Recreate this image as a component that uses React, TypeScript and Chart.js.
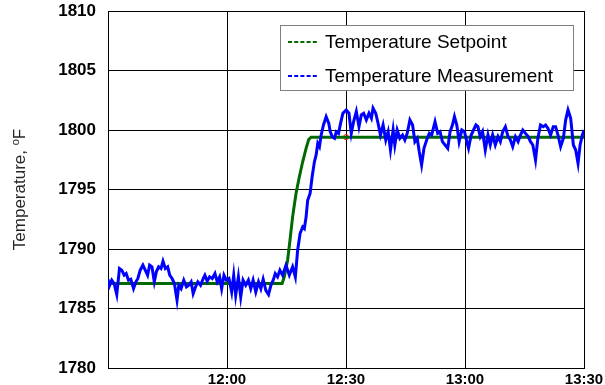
import React, { useEffect, useRef } from 'react';
import { Chart, registerables } from 'chart.js';

Chart.register(...registerables);

// Time axis: minutes after 11:30
const measMinutes = [
  0.0, 0.35, 0.95, 1.54, 2.21, 2.89, 3.48, 4.07, 4.58, 5.17, 5.76, 6.44, 7.03, 7.53, 8.12, 8.8, 9.39, 9.98,
  10.49, 11.08, 11.67, 12.18, 12.77, 13.36, 13.87, 14.46, 15.05, 15.56, 16.15, 16.74, 17.4, 17.84, 18.43,
  19.1, 19.78, 20.37, 20.96, 21.47, 22.06, 22.65, 23.33, 24.0, 24.42, 25.01, 25.61, 26.28, 26.96, 27.55,
  28.14, 28.65, 29.24, 29.83, 30.5, 31.18, 31.69, 32.19, 32.87, 33.46, 34.05, 34.73, 35.4, 35.99, 36.58,
  37.26, 37.94, 38.53, 39.12, 39.79, 40.47, 41.06, 41.65, 42.16, 42.75, 43.34, 44.02, 44.87, 45.71, 46.54,
  47.23, 47.81, 48.42, 49.08, 49.5, 49.94, 50.34, 50.95, 51.46, 52.04, 52.47, 52.88, 53.31, 53.74, 54.32,
  55.0, 55.66, 56.02, 56.52, 57.11, 57.54, 58.12, 58.63, 59.21, 60.06, 60.74, 61.33, 61.92, 62.6, 63.27,
  63.86, 64.45, 65.13, 65.8, 66.4, 66.82, 67.49, 68.08, 68.68, 69.35, 70.03, 70.62, 71.21, 71.88, 72.31,
  72.9, 73.58, 74.25, 74.84, 75.43, 76.11, 76.79, 77.37, 77.96, 78.47, 79.06, 79.66, 80.33, 81.01, 81.6,
  82.44, 83.12, 83.71, 84.3, 84.98, 85.65, 86.24, 86.83, 87.34, 87.93, 88.52, 89.2, 89.87, 90.46, 90.89,
  91.56, 92.15, 92.75, 93.25, 93.84, 94.43, 95.11, 95.79, 96.38, 96.97, 97.64, 98.32, 98.91, 99.5, 100.18,
  100.85, 101.44, 102.03, 102.71, 103.39, 103.98, 104.57, 105.24, 105.92, 106.51, 107.1, 107.78, 108.37,
  109.04, 109.72, 110.31, 110.9, 111.58, 112.25, 112.84, 113.44, 114.11, 114.79, 115.38, 115.97, 116.64,
  117.32, 117.91, 118.5, 119.01, 119.6, 120.0,
];
const measTemps = [
  1787.46, 1786.9, 1787.38, 1787.1, 1786.17, 1788.36, 1788.22, 1787.8, 1787.94, 1787.38, 1787.46, 1786.67,
  1787.24, 1787.52, 1788.22, 1788.64, 1788.22, 1787.8, 1788.64, 1788.5, 1787.24, 1788.08, 1788.5, 1788.36,
  1788.97, 1788.36, 1788.5, 1787.8, 1787.52, 1787.1, 1785.7, 1786.95, 1786.67, 1787.38, 1786.81, 1786.95,
  1787.24, 1786.25, 1786.81, 1787.24, 1786.95, 1787.52, 1787.8, 1787.29, 1787.66, 1787.52, 1787.94, 1787.24,
  1787.66, 1786.67, 1787.8, 1787.38, 1787.52, 1786.39, 1787.8, 1786.11, 1787.66, 1785.97, 1787.38, 1786.95,
  1787.38, 1786.67, 1787.38, 1786.39, 1787.24, 1786.67, 1787.46, 1786.53, 1786.17, 1786.95, 1787.38, 1787.94,
  1787.66, 1788.22, 1787.8, 1788.64, 1787.8, 1788.5, 1787.65, 1789.9, 1791.3, 1791.86, 1791.72, 1792.7,
  1794.1, 1794.67, 1796.07, 1797.33, 1797.9, 1798.88, 1798.6, 1799.58, 1800.42, 1801.12, 1800.56, 1799.86,
  1799.44, 1799.3, 1799.86, 1799.72, 1800.56, 1801.4, 1801.69, 1801.41, 1799.72, 1800.7, 1801.55, 1800.28,
  1801.27, 1801.41, 1800.85, 1801.41, 1800.99, 1801.83, 1801.41, 1800.57, 1799.58, 1800.42, 1799.16, 1799.86,
  1798.32, 1800.0, 1798.74, 1800.0, 1799.3, 1799.58, 1799.16, 1799.72, 1800.85, 1800.42, 1799.02, 1799.3,
  1798.18, 1797.06, 1798.46, 1799.16, 1799.72, 1799.58, 1800.7, 1799.72, 1799.86, 1799.02, 1798.74, 1798.46,
  1799.86, 1800.42, 1801.13, 1800.42, 1799.02, 1800.0, 1799.86, 1799.02, 1798.46, 1799.58, 1800.0, 1800.42,
  1800.28, 1799.44, 1799.86, 1798.32, 1799.58, 1798.74, 1799.58, 1798.74, 1799.44, 1799.02, 1799.86, 1800.28,
  1799.44, 1799.16, 1798.6, 1799.44, 1799.02, 1799.58, 1800.0, 1799.72, 1799.44, 1799.02, 1798.74, 1797.48,
  1799.3, 1800.42, 1800.28, 1800.42, 1800.14, 1799.58, 1800.28, 1800.28, 1799.58, 1798.6, 1799.3, 1800.85,
  1801.69, 1800.99, 1798.74, 1798.32, 1797.2, 1798.74, 1799.58, 1800.0,
];

const setpointMinutes = [0, 43.9, 44.44, 45.28, 45.88, 46.54, 47.4, 48.24, 49.08, 49.94, 50.6, 51.2, 120];
const setpointTemps = [1787.1, 1787.1, 1787.65, 1789.06, 1790.74, 1792.7, 1794.67, 1796.07, 1797.33, 1798.46, 1799.2, 1799.4, 1799.4];

const markerMinutes = [60];
const markerTemps = [1799.4];

const xTickMinutes = [0, 30, 60, 90, 120];
const xTickLabels = ['', '12:00', '12:30', '13:00', '13:30'];

const yMin = 1780;
const yMax = 1810;
const yStep = 5;

const seriesNames = ['Temperature Setpoint', 'Temperature Measurement'];
const yTitleParts = ['Temperature, ', 'o', 'F'];

const FONT = '"Liberation Sans", Arial, Helvetica, sans-serif';
const SETPOINT_COLOR = '#006a00';
const MEAS_COLOR = '#0000ff';

const zip = (xs: number[], ys: number[]) => xs.map((x, i) => ({ x, y: ys[i] }));

const boxLegend = {
  id: 'boxLegend',
  afterDraw(chart: any) {
    const ctx = chart.ctx as CanvasRenderingContext2D;
    const ca = chart.chartArea;
    const x0 = ca.left + 172;
    const y0 = ca.top + 14;
    const w = 293;
    const h = 65;
    ctx.save();
    ctx.fillStyle = '#ffffff';
    ctx.fillRect(x0, y0, w, h);
    ctx.strokeStyle = '#7f7f7f';
    ctx.lineWidth = 1;
    ctx.strokeRect(x0 + 0.5, y0 + 0.5, w, h);
    const items = [
      { label: chart.data.datasets[1].label, color: chart.data.datasets[1].borderColor },
      { label: chart.data.datasets[0].label, color: chart.data.datasets[0].borderColor },
    ];
    items.forEach((it, i) => {
      const cy = y0 + 17 + i * 34;
      ctx.beginPath();
      ctx.setLineDash([4, 2.2]);
      ctx.strokeStyle = it.color;
      ctx.lineWidth = 2;
      ctx.moveTo(x0 + 8, cy);
      ctx.lineTo(x0 + 39, cy);
      ctx.stroke();
      ctx.setLineDash([]);
      ctx.fillStyle = '#000000';
      ctx.font = `19px ${FONT}`;
      ctx.textAlign = 'left';
      ctx.textBaseline = 'middle';
      ctx.fillText(it.label, x0 + 45, cy + 1);
    });
    ctx.restore();
  },
};

const yTitle = {
  id: 'yTitle',
  afterDraw(chart: any) {
    const ctx = chart.ctx as CanvasRenderingContext2D;
    const ca = chart.chartArea;
    const cy = (ca.top + ca.bottom) / 2;
    ctx.save();
    ctx.translate(20, cy);
    ctx.rotate(-Math.PI / 2);
    ctx.fillStyle = '#262626';
    ctx.textBaseline = 'middle';
    ctx.textAlign = 'left';
    const mainFont = `17px ${FONT}`;
    const supFont = `11px ${FONT}`;
    ctx.font = mainFont;
    const w0 = ctx.measureText(yTitleParts[0]).width;
    const w2 = ctx.measureText(yTitleParts[2]).width;
    ctx.font = supFont;
    const w1 = ctx.measureText(yTitleParts[1]).width;
    let x = -(w0 + w1 + w2) / 2;
    ctx.font = mainFont;
    ctx.fillText(yTitleParts[0], x, 0);
    x += w0;
    ctx.font = supFont;
    ctx.fillText(yTitleParts[1], x, -4);
    x += w1;
    ctx.font = mainFont;
    ctx.fillText(yTitleParts[2], x, 0);
    ctx.restore();
  },
};

export default function App() {
  const ref = useRef<HTMLCanvasElement | null>(null);

  useEffect(() => {
    document.body.style.margin = '0';
    const canvas = ref.current;
    if (!canvas) return;
    const chart = new Chart(canvas, {
      type: 'line',
      data: {
        datasets: [
          {
            label: seriesNames[1],
            data: zip(measMinutes, measTemps),
            borderColor: MEAS_COLOR,
            backgroundColor: MEAS_COLOR,
            borderWidth: 3,
            pointRadius: 0,
            tension: 0,
          },
          {
            label: seriesNames[0],
            data: zip(setpointMinutes, setpointTemps),
            borderColor: SETPOINT_COLOR,
            backgroundColor: SETPOINT_COLOR,
            borderWidth: 3,
            pointRadius: 0,
            tension: 0,
          },
          {
            label: 'marker',
            data: zip(markerMinutes, markerTemps),
            showLine: false,
            pointRadius: 2.5,
            pointBorderWidth: 1,
            pointBorderColor: '#ff0000',
            pointBackgroundColor: 'rgba(0,0,0,0)',
            borderColor: '#ff0000',
          },
        ],
      },
      options: {
        animation: false,
        responsive: false,
        devicePixelRatio: 1,
        layout: { autoPadding: false, padding: { top: 11, right: 21, left: 0, bottom: 0 } },
        plugins: {
          legend: { display: false },
          tooltip: { enabled: false },
        },
        scales: {
          x: {
            type: 'linear',
            min: xTickMinutes[0],
            max: xTickMinutes[xTickMinutes.length - 1],
            afterBuildTicks: (s: any) => {
              s.ticks = xTickMinutes.map((v) => ({ value: v }));
            },
            afterFit: (s: any) => {
              s.height = 17;
              s.paddingLeft = 0;
              s.paddingRight = 0;
            },
            grid: { color: '#000', lineWidth: 1, drawTicks: false },
            border: { display: true, color: '#000', width: 1 },
            ticks: {
              autoSkip: false,
              maxRotation: 0,
              padding: 3,
              color: '#000',
              font: { family: FONT, size: 15, weight: 'bold' },
              callback: (v: any) => {
                const i = xTickMinutes.indexOf(Number(v));
                return i >= 0 ? xTickLabels[i] : '';
              },
            },
          },
          y: {
            min: yMin,
            max: yMax,
            afterFit: (s: any) => {
              s.width = 108;
              s.paddingTop = 0;
              s.paddingBottom = 0;
            },
            grid: { color: '#000', lineWidth: 1, drawTicks: false },
            border: { display: true, color: '#000', width: 1 },
            ticks: {
              stepSize: yStep,
              padding: 12,
              color: '#000',
              font: { family: FONT, size: 17, weight: 'bold' },
              callback: (v: any) => String(v),
            },
          },
        },
      },
      plugins: [boxLegend, yTitle],
    });
    return () => chart.destroy();
  }, []);

  return <canvas ref={ref} width={605} height={385} style={{ display: 'block' }} />;
}
